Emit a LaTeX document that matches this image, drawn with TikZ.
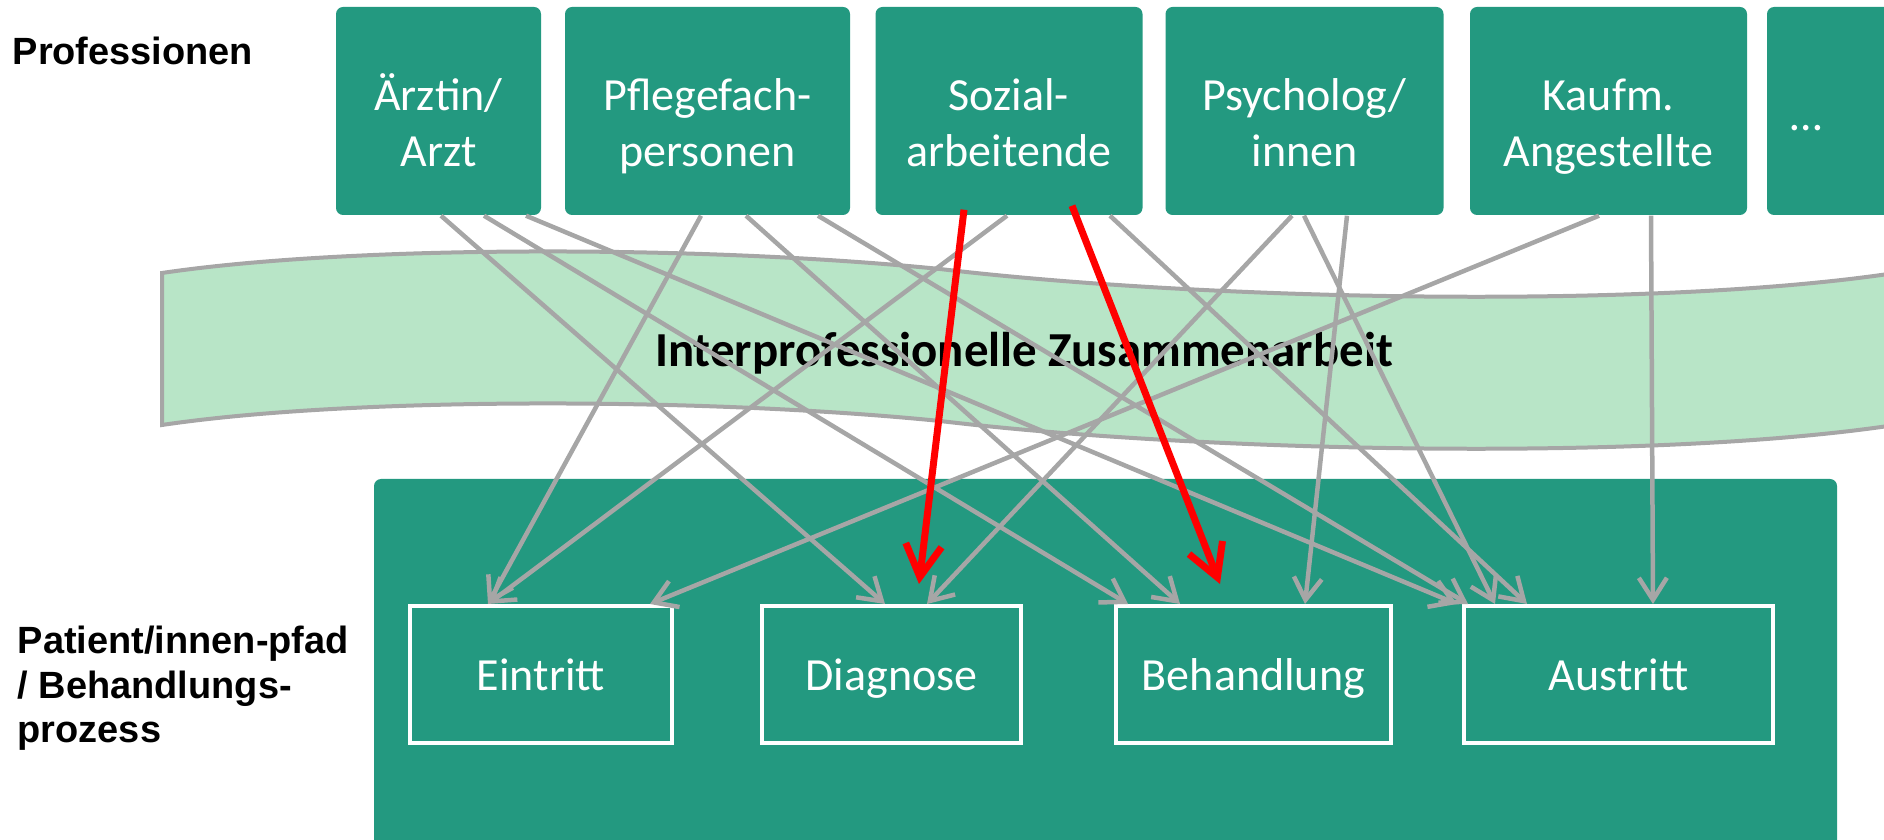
\documentclass[tikz,border=0pt]{standalone}
\usepackage{fontspec}
\setmainfont{Carlito}
\newfontfamily\arialfont{Liberation Sans}
\usetikzlibrary{arrows.meta}
\definecolor{profgreen}{RGB}{35,153,128}
\definecolor{bandgreen}{RGB}{184,229,199}
\definecolor{arcgray}{RGB}{166,166,166}
\tikzstyle{profbox}=[fill=profgreen,text=white,minimum height=2.08cm,rounded corners=2pt,align=center,inner sep=0pt,text height=1.14cm,text depth=0.02cm,font=\fontsize{13.1}{16.2}\selectfont]
\tikzstyle{stepbox}=[draw=white,line width=0.04cm,fill=profgreen,text=white,minimum height=1.37cm,text height=0.33cm,text depth=0cm,font=\fontsize{13.1}{16.2}\selectfont]
\tikzstyle{band}=[draw=arcgray,fill=bandgreen,line width=0.04cm]
\tikzstyle{bandlabel}=[anchor=base,inner sep=0pt,font=\bfseries\fontsize{13.9}{16}\selectfont]
\tikzstyle{sidelabel}=[anchor=base west,inner sep=0pt,align=left,font=\arialfont\bfseries\fontsize{10.8}{12.8}\selectfont]
\tikzstyle{linkarc}=[->,>={Straight Barb[length=0.22cm,width=0.28cm]},draw=arcgray,line width=0.045cm]
\tikzstyle{redarc}=[->,>={Straight Barb[length=0.32cm,width=0.36cm]},draw=red,line width=0.07cm]

\begin{document}
\begin{tikzpicture}

\useasboundingbox (0,0) rectangle (18.84,8.40);
\clip (0,0) rectangle (18.84,8.40);

\node[sidelabel] (proflabel) at (0.12,7.75) {Professionen};
\node[sidelabel] (pathlabel) at (0.17,0.97) {Patient/innen-pfad\\/ Behandlungs-\\prozess};

\draw[band] (1.62,5.67) .. controls (3.50,5.95) and (7.00,5.95) .. (9.40,5.71) .. controls (12.00,5.40) and (16.50,5.30) .. (18.95,5.67) -- (18.95,4.15) .. controls (16.50,3.78) and (12.00,3.88) .. (9.40,4.19) .. controls (7.00,4.43) and (3.50,4.43) .. (1.62,4.15) -- cycle;
\node[bandlabel] (bandtext) at (10.24,4.73) {Interprofessionelle Zusammenarbeit};

\fill[profgreen,rounded corners=2pt] (3.74,-0.3) rectangle (18.37,3.61);

\node[profbox,minimum width=2.05cm] (arzt) at (4.385,7.29) {Ärztin/\\Arzt};
\node[profbox,minimum width=2.85cm] (pflege) at (7.075,7.29) {Pflegefach-\\personen};
\node[profbox,minimum width=2.67cm] (sozial) at (10.09,7.29) {Sozial-\\arbeitende};
\node[profbox,minimum width=2.78cm] (psych) at (13.045,7.29) {Psycholog/\\innen};
\node[profbox,minimum width=2.77cm] (kaufm) at (16.085,7.29) {Kaufm.\\Angestellte};
\node[profbox,minimum width=1.33cm,text width=0.87cm,inner xsep=0.23cm,align=left,text height=0.5cm,text depth=0.1cm] (more) at (18.335,7.29) {…};

\node[stepbox,minimum width=2.62cm] (eintritt) at (5.41,1.655) {Eintritt};
\node[stepbox,minimum width=2.59cm] (diagnose) at (8.915,1.655) {Diagnose};
\node[stepbox,minimum width=2.75cm] (behandlung) at (12.535,1.655) {Behandlung};
\node[stepbox,minimum width=3.09cm] (austritt) at (16.185,1.655) {Austritt};

\draw[linkarc] ([xshift=0.025cm]arzt.south) -- ([xshift=-0.065cm]diagnose.north);
\draw[linkarc] ([xshift=0.455cm]arzt.south) -- ([xshift=-1.255cm]behandlung.north);
\draw[linkarc] ([xshift=0.875cm]arzt.south) -- ([xshift=-1.615cm]austritt.north);
\draw[linkarc] ([xshift=-0.065cm]pflege.south) -- ([xshift=-0.53cm]eintritt.north);
\draw[linkarc] ([xshift=0.385cm]pflege.south) -- ([xshift=-0.735cm]behandlung.north);
\draw[linkarc] ([xshift=1.105cm]pflege.south) -- ([xshift=-1.505cm]austritt.north);
\draw[linkarc] ([xshift=-0.02cm]sozial.south) -- ([xshift=-0.53cm]eintritt.north);
\draw[linkarc] ([xshift=1.01cm]sozial.south) -- ([xshift=-0.915cm]austritt.north);
\draw[linkarc] ([xshift=-0.125cm]psych.south) -- ([xshift=0.355cm]diagnose.north);
\draw[linkarc] ([xshift=-0.005cm]psych.south) -- ([xshift=-1.235cm]austritt.north);
\draw[linkarc] ([xshift=0.425cm]psych.south) -- ([xshift=0.515cm]behandlung.north);
\draw[linkarc] ([xshift=-0.095cm]kaufm.south) -- ([xshift=1.09cm]eintritt.north);
\draw[linkarc] ([xshift=0.425cm]kaufm.south) -- ([xshift=0.345cm]austritt.north);

\draw[redarc] ([xshift=-0.45cm,yshift=0.06cm]sozial.south) -- ([xshift=0.275cm,yshift=0.2cm]diagnose.north);
\draw[redarc] ([xshift=0.63cm,yshift=0.1cm]sozial.south) -- ([xshift=-0.335cm,yshift=0.2cm]behandlung.north);

\end{tikzpicture}
\end{document}
